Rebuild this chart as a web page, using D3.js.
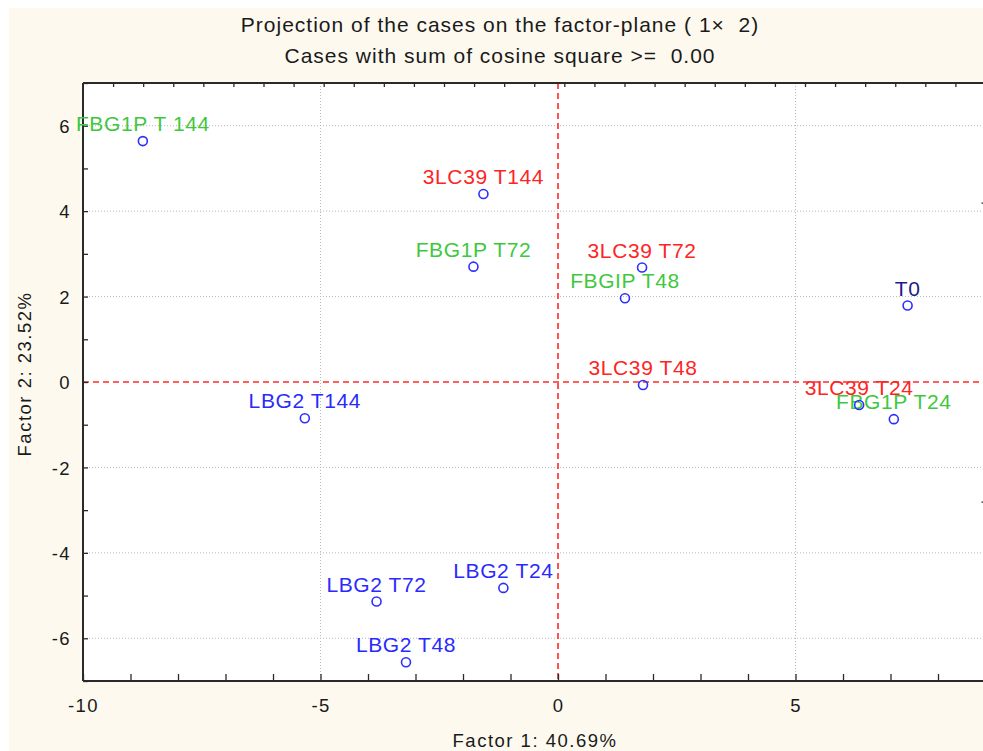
<!DOCTYPE html>
<html>
<head>
<meta charset="utf-8">
<script src="https://cdn.jsdelivr.net/npm/d3@7"></script>
<style>
  html, body { margin: 0; padding: 0; background: #ffffff; }
  svg { display: block; }
  text { font-family: "Liberation Sans", Arial, sans-serif; white-space: pre; }
</style>
</head>
<body>
<svg id="chart" width="983" height="751"></svg>
<script>
// Case scores on the first two factors
const caseNames = ["FBG1P T 144", "3LC39 T144", "FBG1P T72", "3LC39 T72", "FBGIP T48", "3LC39 T48",
                   "T0", "3LC39 T24", "FBG1P T24", "LBG2 T144", "LBG2 T72", "LBG2 T24", "LBG2 T48"];
const caseGroups = ["FBG1P", "3LC39", "FBG1P", "3LC39", "FBG1P", "3LC39",
                    "T0", "3LC39", "FBG1P", "LBG2", "LBG2", "LBG2", "LBG2"];
const factor1 = [-8.74, -1.57, -1.78, 1.77, 1.41, 1.79, 7.36, 6.34, 7.07, -5.33, -3.82, -1.15, -3.20];
const factor2 = [5.64, 4.40, 2.70, 2.68, 1.96, -0.07, 1.79, -0.54, -0.87, -0.85, -5.14, -4.82, -6.56];

const xTicks = d3.range(-10, 10);
const xTickLabels = [-10, -5, 0, 5];
const yTicks = d3.range(-7, 8);
const yTickLabels = [-6, -4, -2, 0, 2, 4, 6];
const xGrid = [-5, 5];
const yGrid = [-6, -4, -2, 2, 4, 6];

const titleLines = ["Projection of the cases on the factor-plane ( 1×  2)",
                    "Cases with sum of cosine square >=  0.00"];
const xTitle = "Factor 1: 40.69%";
const yTitle = "Factor 2: 23.52%";

const groupColor = d3.scaleOrdinal()
  .domain(["FBG1P", "3LC39", "LBG2", "T0"])
  .range(["#3ec83e", "#ff2424", "#2a2aff", "#1c1c8c"]);

const svg = d3.select("#chart");
const plotL = 83, plotR = 985.5, plotT = 83, plotB = 681;

const x = d3.scaleLinear().domain([-10, 9]).range([plotL, plotR]);
const y = d3.scaleLinear().domain([-7, 7]).range([plotB, plotT]);
// secondary frame scales (top and right edges)
const xTop = d3.scaleLinear().domain([0, 30]).range([plotL, plotR]);
const yRight = d3.scaleLinear().domain([0, 1]).range([plotB, plotT]);

// page and plot backgrounds
svg.append("rect").attr("x", 9).attr("y", 8).attr("width", 983 - 9).attr("height", 751 - 8)
  .attr("fill", "#fdf9ef");
svg.append("rect").attr("x", plotL).attr("y", plotT).attr("width", plotR - plotL).attr("height", plotB - plotT)
  .attr("fill", "#ffffff");

// titles
svg.selectAll("text.title").data(titleLines).join("text")
  .attr("class", "title")
  .attr("x", 500).attr("y", (d, i) => 32 + i * 31)
  .attr("text-anchor", "middle")
  .attr("font-size", 21).attr("letter-spacing", "1px")
  .attr("fill", "#1a1a1a")
  .text(d => d);

// grid
const grid = svg.append("g");
grid.selectAll("line.gx").data(xGrid).join("line")
  .attr("x1", d => x(d)).attr("x2", d => x(d)).attr("y1", plotT).attr("y2", plotB)
  .attr("stroke", "#b8b8b8").attr("stroke-width", 1).attr("stroke-dasharray", "1,2");
grid.selectAll("line.gy").data(yGrid).join("line")
  .attr("x1", plotL).attr("x2", plotR).attr("y1", d => y(d)).attr("y2", d => y(d))
  .attr("stroke", "#b8b8b8").attr("stroke-width", 1).attr("stroke-dasharray", "1,2");

// zero reference lines
svg.append("line").attr("x1", x(0)).attr("x2", x(0)).attr("y1", plotT).attr("y2", plotB)
  .attr("stroke", "#ff2a2a").attr("stroke-width", 1.6).attr("stroke-dasharray", "6,4");
svg.append("line").attr("x1", plotL).attr("x2", plotR).attr("y1", y(0)).attr("y2", y(0))
  .attr("stroke", "#ff2a2a").attr("stroke-width", 1.6).attr("stroke-dasharray", "6,4");

// axes
function styleAxis(g) {
  g.select(".domain").remove();
  g.selectAll(".tick line").attr("stroke", "#2a2a2a").attr("stroke-width", 1.3);
  g.selectAll(".tick text").attr("fill", "#1a1a1a").attr("font-size", 18.5)
    .attr("letter-spacing", "1.4px").attr("font-family", "Liberation Sans, Arial, sans-serif");
}

const gx = svg.append("g").attr("transform", `translate(0,${plotB})`)
  .call(d3.axisBottom(x).tickValues(xTicks).tickSize(-7)
    .tickFormat(d => xTickLabels.includes(d) ? String(d) : ""));
styleAxis(gx);
gx.selectAll(".tick text").attr("y", 31).attr("dy", 0);

const gy = svg.append("g").attr("transform", `translate(${plotL},0)`)
  .call(d3.axisLeft(y).tickValues(yTicks).tickSize(-5)
    .tickFormat(d => yTickLabels.includes(d) ? String(d) : ""));
styleAxis(gy);
gy.selectAll(".tick text").attr("x", -12).attr("dy", "0.36em");

const gt = svg.append("g").attr("transform", `translate(0,${plotT})`)
  .call(d3.axisTop(xTop).tickValues(d3.range(1, 30)).tickSize(-4).tickFormat(""));
styleAxis(gt);

const gr = svg.append("g").attr("transform", `translate(${plotR},0)`)
  .call(d3.axisRight(yRight).tickValues([0.3, 0.8]).tickSize(-4).tickFormat(""));
styleAxis(gr);

// frame
const frame = [[plotL, plotT, plotR, plotT], [plotL, plotT, plotL, plotB], [plotL, plotB, plotR, plotB], [plotR, plotT, plotR, plotB]];
svg.selectAll("line.frame").data(frame).join("line")
  .attr("x1", d => d[0]).attr("y1", d => d[1]).attr("x2", d => d[2]).attr("y2", d => d[3])
  .attr("stroke", "#2a2a2a").attr("stroke-width", 2);

// axis titles
svg.append("text").attr("x", 535).attr("y", 747).attr("text-anchor", "middle")
  .attr("font-size", 18.5).attr("letter-spacing", "1.5px").attr("fill", "#1a1a1a").text(xTitle);
svg.append("text").attr("transform", "translate(31,374) rotate(-90)").attr("text-anchor", "middle")
  .attr("font-size", 18.5).attr("letter-spacing", "1.5px").attr("fill", "#1a1a1a").text(yTitle);

// case labels, then markers on top
const cases = caseNames.map((name, i) => ({ name, group: caseGroups[i], f1: factor1[i], f2: factor2[i] }));

svg.append("g").selectAll("text").data(cases).join("text")
  .attr("x", d => x(d.f1)).attr("y", d => y(d.f2) - 10)
  .attr("text-anchor", "middle")
  .attr("font-size", 21).attr("letter-spacing", "0.6px")
  .attr("fill", d => groupColor(d.group))
  .text(d => d.name);

svg.append("g").selectAll("circle").data(cases).join("circle")
  .attr("cx", d => x(d.f1)).attr("cy", d => y(d.f2)).attr("r", 4.5)
  .attr("fill", "none").attr("stroke", "#2e2eff").attr("stroke-width", 1.6);
</script>
</body>
</html>
